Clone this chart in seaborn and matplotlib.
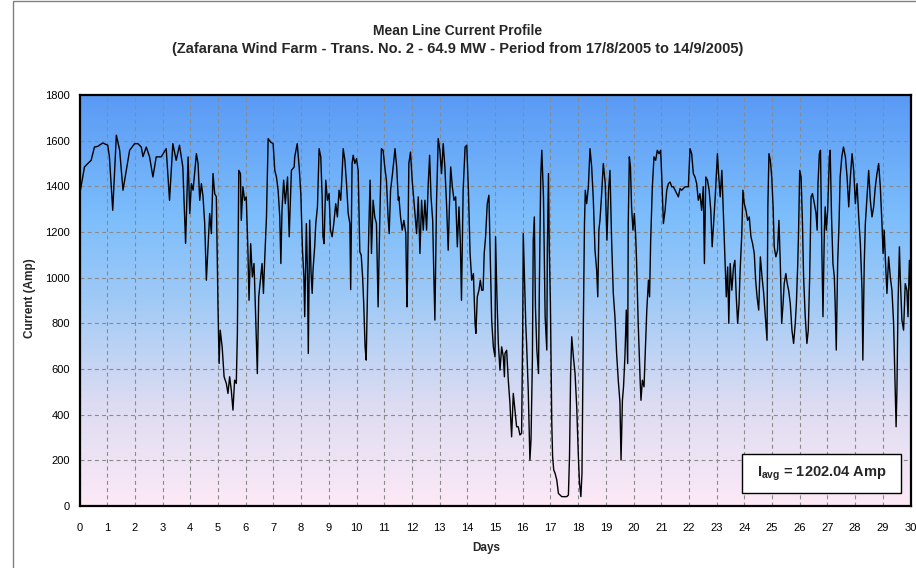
import matplotlib
matplotlib.use("Agg")
import pandas as pd
import matplotlib.pyplot as plt
import seaborn as sns
from matplotlib.colors import LinearSegmentedColormap
from matplotlib.patches import Rectangle

# Mean line current readings (days since 17/8/2005, Amp)
days = [
    0.00, 0.18, 0.30, 0.42, 0.54, 0.66, 0.84, 1.02, 1.08, 1.20, 1.33, 1.45, 1.57, 1.63, 1.69, 1.81,
    1.99, 2.11, 2.23, 2.29, 2.41, 2.53, 2.65, 2.77, 2.95, 3.13, 3.25, 3.37, 3.49, 3.61, 3.73, 3.83,
    3.92, 3.98, 4.04, 4.10, 4.22, 4.28, 4.34, 4.40, 4.46, 4.52, 4.58, 4.64, 4.70, 4.76, 4.82, 4.88,
    4.94, 5.00, 5.04, 5.08, 5.15, 5.22, 5.30, 5.36, 5.42, 5.48, 5.54, 5.60, 5.66, 5.70, 5.75, 5.81,
    5.84, 5.90, 5.96, 6.02, 6.08, 6.12, 6.18, 6.24, 6.30, 6.36, 6.42, 6.47, 6.54, 6.59, 6.64, 6.69,
    6.75, 6.81, 6.90, 6.99, 7.05, 7.11, 7.17, 7.23, 7.27, 7.31, 7.37, 7.43, 7.51, 7.57, 7.65, 7.75,
    7.77, 7.86, 7.93, 7.99, 8.05, 8.10, 8.13, 8.19, 8.23, 8.26, 8.31, 8.36, 8.40, 8.43, 8.49, 8.53,
    8.59, 8.65, 8.71, 8.76, 8.79, 8.83, 8.89, 8.95, 9.01, 9.06, 9.12, 9.18, 9.25, 9.31, 9.37, 9.43,
    9.48, 9.52, 9.58, 9.64, 9.70, 9.76, 9.79, 9.84, 9.88, 9.94, 10.00, 10.06, 10.12, 10.17, 10.22,
    10.26, 10.31, 10.35, 10.40, 10.45, 10.49, 10.54, 10.60, 10.66, 10.72, 10.78, 10.84, 10.90, 10.96,
    11.02, 11.08, 11.14, 11.18, 11.23, 11.30, 11.39, 11.45, 11.51, 11.53, 11.59, 11.65, 11.71, 11.78,
    11.82, 11.84, 11.89, 11.95, 12.01, 12.06, 12.11, 12.17, 12.23, 12.29, 12.35, 12.41, 12.47, 12.53,
    12.59, 12.64, 12.69, 12.75, 12.79, 12.83, 12.89, 12.95, 13.01, 13.07, 13.13, 13.19, 13.25, 13.31,
    13.35, 13.40, 13.46, 13.52, 13.58, 13.64, 13.70, 13.75, 13.79, 13.85, 13.92, 13.98, 14.04, 14.10,
    14.16, 14.22, 14.28, 14.31, 14.36, 14.42, 14.47, 14.52, 14.57, 14.61, 14.66, 14.72, 14.78, 14.83,
    14.88, 14.94, 15.00, 15.02, 15.07, 15.12, 15.18, 15.24, 15.30, 15.34, 15.36, 15.42, 15.48, 15.54,
    15.60, 15.66, 15.72, 15.78, 15.84, 15.90, 15.96, 16.00, 16.02, 16.06, 16.11, 16.14, 16.20, 16.26,
    16.30, 16.35, 16.38, 16.42, 16.46, 16.51, 16.57, 16.60, 16.65, 16.69, 16.75, 16.81, 16.87, 16.89,
    16.93, 16.96, 17.00, 17.05, 17.08, 17.12, 17.17, 17.23, 17.29, 17.41, 17.59, 17.65, 17.69, 17.73,
    17.77, 17.83, 17.89, 17.95, 18.01, 18.05, 18.10, 18.14, 18.19, 18.23, 18.26, 18.31, 18.37, 18.43,
    18.49, 18.55, 18.61, 18.67, 18.71, 18.75, 18.79, 18.85, 18.91, 18.98, 19.04, 19.10, 19.15, 19.21,
    19.27, 19.33, 19.39, 19.45, 19.51, 19.55, 19.60, 19.64, 19.69, 19.74, 19.79, 19.81, 19.85, 19.89,
    19.93, 19.98, 20.03, 20.08, 20.11, 20.17, 20.24, 20.27, 20.32, 20.38, 20.42, 20.48, 20.54, 20.58,
    20.62, 20.68, 20.74, 20.80, 20.86, 20.92, 20.98, 21.02, 21.08, 21.14, 21.20, 21.26, 21.32, 21.38,
    21.44, 21.50, 21.56, 21.62, 21.68, 21.74, 21.86, 21.98, 22.04, 22.10, 22.16, 22.22, 22.28, 22.34,
    22.40, 22.46, 22.52, 22.56, 22.61, 22.67, 22.73, 22.79, 22.84, 22.89, 22.95, 23.03, 23.07, 23.13,
    23.19, 23.25, 23.31, 23.35, 23.40, 23.44, 23.49, 23.55, 23.61, 23.66, 23.71, 23.76, 23.81, 23.85,
    23.91, 23.95, 24.00, 24.06, 24.12, 24.18, 24.24, 24.30, 24.36, 24.41, 24.46, 24.52, 24.58, 24.64,
    24.70, 24.76, 24.82, 24.85, 24.89, 24.94, 24.99, 25.04, 25.08, 25.14, 25.20, 25.25, 25.30, 25.35,
    25.40, 25.44, 25.50, 25.55, 25.60, 25.66, 25.72, 25.78, 25.84, 25.88, 25.93, 25.96, 26.00, 26.05,
    26.10, 26.14, 26.20, 26.26, 26.31, 26.36, 26.41, 26.46, 26.53, 26.59, 26.63, 26.66, 26.71, 26.75,
    26.80, 26.84, 26.89, 26.92, 26.96, 27.01, 27.07, 27.10, 27.15, 27.20, 27.25, 27.28, 27.32, 27.37,
    27.42, 27.46, 27.52, 27.58, 27.65, 27.71, 27.77, 27.83, 27.89, 27.95, 28.01, 28.07, 28.13, 28.19,
    28.25, 28.28, 28.33, 28.37, 28.43, 28.49, 28.55, 28.61, 28.67, 28.73, 28.79, 28.85, 28.91, 28.97,
    29.01, 29.05, 29.10, 29.15, 29.21, 29.27, 29.33, 29.39, 29.43, 29.48, 29.51, 29.55, 29.60, 29.63,
    29.69, 29.75, 29.81, 29.87, 29.91, 29.96, 30.00,
]
current = [
    1360, 1485, 1500, 1514, 1572, 1575, 1590, 1580, 1529, 1295, 1624, 1558, 1383, 1427, 1470, 1558,
    1587, 1587, 1572, 1530, 1572, 1529, 1441, 1529, 1529, 1565, 1339, 1587, 1514, 1580, 1485, 1150,
    1529, 1281, 1412, 1383, 1543, 1500, 1339, 1412, 1354, 1237, 989, 1135, 1281, 1193, 1456, 1368,
    1354, 872, 624, 770, 697, 566, 537, 493, 566, 507, 420, 551, 537, 756, 1470, 1456,
    1251, 1398, 1339, 1354, 1120, 901, 1149, 1003, 1062, 829, 580, 916, 1003, 1062, 931, 1091,
    1266, 1609, 1594, 1587, 1470, 1441, 1383, 1266, 1062, 1295, 1427, 1324, 1441, 1179, 1470, 1485,
    1529, 1587, 1485, 1368, 1120, 1003, 829, 1237, 1018, 668, 1252, 1018, 931, 1033, 1135, 1237,
    1310, 1565, 1529, 1354, 1179, 1149, 1427, 1339, 1368, 1208, 1179, 1237, 1324, 1266, 1383, 1339,
    1456, 1565, 1514, 1412, 1281, 1237, 948, 1500, 1536, 1500, 1521, 1470, 1113, 1099, 1003,
    887, 697, 639, 960, 1237, 1427, 1106, 1339, 1266, 1237, 872, 1252, 1565, 1558,
    1485, 1427, 1266, 1193, 1383, 1456, 1565, 1485, 1339, 1354, 1266, 1208, 1251, 1193,
    872, 989, 1500, 1550, 1427, 1354, 1281, 1193, 1354, 1106, 1339, 1208, 1339, 1208,
    1412, 1536, 1354, 1252, 1018, 814, 1339, 1609, 1558, 1456, 1587, 1485, 1324, 1120,
    1295, 1485, 1398, 1339, 1354, 1135, 1310, 1149, 901, 1383, 1572, 1580, 1383, 1106,
    989, 1018, 800, 756, 916, 945, 989, 945, 945, 1106, 1179, 1324, 1361, 1091,
    814, 697, 653, 1179, 916, 712, 595, 697, 653, 566, 668, 682, 551, 449,
    303, 493, 420, 347, 347, 311, 318, 770, 1193, 1018, 800, 712, 508, 201,
    289, 639, 1164, 1266, 872, 685, 580, 944, 1441, 1558, 1354, 829, 683, 1120,
    1456, 1120, 886, 362, 216, 158, 143, 114, 55, 41, 41, 48, 216, 580,
    741, 653, 580, 434, 216, 102, 41, 143, 800, 1237, 1383, 1324, 1398, 1565,
    1485, 1339, 1120, 1033, 916, 1208, 1252, 1368, 1500, 1412, 1164, 1383, 1470, 1164,
    931, 829, 668, 551, 456, 201, 463, 522, 653, 858, 624, 1237, 1529, 1485,
    1310, 1208, 1281, 1179, 1076, 800, 551, 463, 551, 522, 653, 858, 989, 916,
    1164, 1398, 1529, 1514, 1558, 1543, 1558, 1441, 1237, 1295, 1383, 1412, 1419, 1398,
    1398, 1383, 1368, 1354, 1390, 1383, 1398, 1398, 1565, 1543, 1456, 1441, 1412, 1339,
    1368, 1295, 1398, 1062, 1441, 1427, 1383, 1295, 1135, 1237, 1354, 1543, 1456, 1354,
    1470, 1266, 1062, 916, 1047, 800, 1062, 945, 1047, 1076, 916, 800, 887, 1033,
    1193, 1383, 1324, 1295, 1251, 1266, 1179, 1149, 1106, 989, 916, 858, 1091, 1003,
    931, 829, 726, 1310, 1543, 1514, 1441, 1310, 1135, 1091, 1120, 1251, 1062, 800,
    887, 974, 1018, 974, 945, 887, 770, 712, 800, 887, 1062, 1208, 1470, 1441,
    1237, 1003, 829, 712, 770, 1003, 1354, 1368, 1324, 1281, 1208, 1412, 1543, 1558,
    1120, 829, 1208, 1310, 1208, 1295, 1529, 1558, 1266, 1062, 1003, 887, 683, 1062,
    1237, 1441, 1529, 1572, 1529, 1441, 1310, 1441, 1543, 1470, 1324, 1412, 1266, 1149,
    945, 639, 1062, 1237, 1354, 1470, 1339, 1266, 1310, 1398, 1456, 1500, 1398, 1237,
    1106, 1208, 1062, 931, 1091, 1003, 945, 800, 595, 347, 508, 887, 1135, 1003,
    814, 770, 974, 945, 829, 1076, 945,
]
i_avg = 1202.04

title = "Mean Line Current Profile"
subtitle = "(Zafarana Wind Farm - Trans. No. 2 - 64.9 MW - Period from 17/8/2005 to 14/9/2005)"

sns.set_theme(style="white")
plt.rcParams['font.family'] = ['Liberation Sans', 'DejaVu Sans']
plt.rcParams['mathtext.fontset'] = 'custom'
plt.rcParams['mathtext.rm'] = 'Liberation Sans'
plt.rcParams['mathtext.bf'] = 'Liberation Sans:bold'

df = pd.DataFrame({'Days': days, 'Current': current})

fig = plt.figure(figsize=(9.16, 5.68), dpi=100)
ax = fig.add_axes([79.5 / 916, 1 - 506 / 568, 831 / 916, 411 / 568])

# blue-to-pink gradient behind the plot, like the excel chart
grad = LinearSegmentedColormap.from_list(
    'bg', [(0.0, '#fde9f7'), (0.25, '#dcdcf2'), (0.5, '#a0caf6'), (0.7, '#7dbefc'), (1.0, '#5a9af5')])
ax.imshow([[v / 255] for v in range(255, -1, -1)], cmap=grad, aspect='auto',
          extent=[0, 30, 0, 1800], zorder=0, vmin=0, vmax=1)

sns.lineplot(data=df, x='Days', y='Current', ax=ax, color='black', linewidth=1.0,
             estimator=None, sort=False, zorder=3)

ax.set_xlim(0, 30)
ax.set_ylim(0, 1800)
ax.set_xticks(range(0, 31))
ax.set_yticks(range(0, 1801, 200))
ax.grid(True, color='#8a8a8a', linestyle=(0, (3.5, 3)), linewidth=0.8, zorder=1)
ax.set_axisbelow(False)
for s in ax.spines.values():
    s.set_color('black')
    s.set_linewidth(1.6)
    s.set_zorder(4)
ax.tick_params(axis='both', labelsize=8, colors='black', direction='out', length=3, width=1, zorder=4)
ax.tick_params(axis='x', pad=9)
ax.tick_params(axis='y', pad=4)
ax.set_xlabel('')
ax.set_ylabel('')

fig.text(0.5, 1 - 31 / 568, title, ha='center', va='center', fontsize=10, fontweight='bold')
fig.text(0.5, 1 - 49 / 568, subtitle, ha='center', va='center', fontsize=10.5, fontweight='bold')
fig.text(30 / 916, 1 - 298 / 568, 'Current (Amp)', ha='center', va='center', rotation=90,
         fontsize=8.5, fontweight='bold')
fig.text(486 / 916, 1 - 548 / 568, 'Days', ha='center', va='center', fontsize=8.5, fontweight='bold')

# average current box
ax.add_patch(Rectangle((0.797, 0.032), 0.192, 0.095, transform=ax.transAxes,
                       facecolor='white', edgecolor='black', linewidth=1, zorder=5))
ax.text(0.893, 0.079, r'$\mathbf{I_{avg}}$' + f' = {i_avg:.2f} Amp', transform=ax.transAxes,
        ha='center', va='center', fontsize=10.5, fontweight='bold', zorder=6)

# outer chart frame
fig.add_artist(Rectangle((12.5 / 916, -0.01), 1.0, 1.01 - 1.5 / 568, transform=fig.transFigure,
                         fill=False, edgecolor='#808080', linewidth=1))

fig.savefig('out.png', dpi=100)
